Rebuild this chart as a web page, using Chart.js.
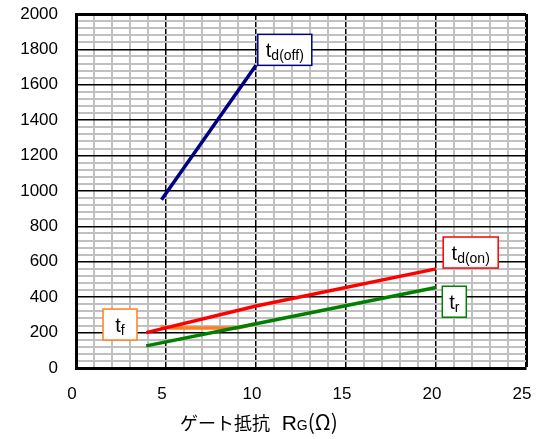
<!DOCTYPE html>
<html>
<head>
<meta charset="utf-8">
<script src="https://cdn.jsdelivr.net/npm/chart.js@4/dist/chart.umd.min.js"></script>
<style>
  html, body { margin: 0; padding: 0; background: #fff; }
  #wrap { width: 543px; height: 439px; }
</style>
</head>
<body>
<div id="wrap"><canvas id="swChart"></canvas></div>
<script>
// gate resistance (ohm) vs switching time (ns)
const tdOffX = [4.75, 10];
const tdOffY = [950, 1710];
const tdOnX = [3.9, 10, 20];
const tdOnY = [200, 350, 560];
const trX = [3.9, 10, 20];
const trY = [125, 250, 455];
const tfX = [4.7, 5.3, 9, 10];
const tfY = [235, 226, 226, 250];

const xTicks = [0, 5, 10, 15, 20, 25];
const yTicks = [0, 200, 400, 600, 800, 1000, 1200, 1400, 1600, 1800, 2000];

const FONT = 'Liberation Sans, Arial, sans-serif';

function pts(xs, ys) {
    return xs.map((x, i) => ({ x: x, y: ys[i] }));
}

function series(xs, ys, color) {
    return {
        data: pts(xs, ys),
        borderColor: color,
        backgroundColor: color,
        borderWidth: 3.5,
        pointRadius: 0,
        showLine: true,
        tension: 0
    };
}

// boxed curve labels, anchored at data coords (left, top of box)
const curveLabels = [
    { x: 10.1, y: 1885, main: 't', sub: 'd(off)', color: '#000080', w: 54 },
    { x: 20.4, y: 740, main: 't', sub: 'd(on)', color: '#ff0000', w: 55 },
    { x: 20.35, y: 462, main: 't', sub: 'r', color: '#008000', w: 24 },
    { x: 1.5, y: 333, main: 't', sub: 'f', color: '#ff7f20', w: 34 }
];

const labelPlugin = {
    id: 'curveLabels',
    afterDatasetsDraw(chart) {
        const ctx = chart.ctx;
        const xs = chart.scales.x, ys = chart.scales.y;
        ctx.save();
        curveLabels.forEach(l => {
            const left = xs.getPixelForValue(l.x);
            const top = ys.getPixelForValue(l.y);
            const h = 31;
            ctx.fillStyle = '#fff';
            ctx.fillRect(left, top, l.w, h);
            ctx.strokeStyle = l.color;
            ctx.lineWidth = 1.5;
            ctx.strokeRect(left, top, l.w, h);
            ctx.font = '20px ' + FONT;
            const mw = ctx.measureText(l.main).width;
            ctx.font = '14px ' + FONT;
            const sw = ctx.measureText(l.sub).width;
            let tx = left + (l.w - mw - sw) / 2;
            ctx.fillStyle = '#000';
            ctx.textBaseline = 'alphabetic';
            ctx.textAlign = 'left';
            ctx.font = '20px ' + FONT;
            ctx.fillText(l.main, tx, top + 23);
            ctx.font = '14px ' + FONT;
            ctx.fillText(l.sub, tx + mw, top + 26);
        });
        ctx.restore();
    }
};

// x axis title with the small "G" in R_G
const titlePlugin = {
    id: 'xTitle',
    afterDraw(chart) {
        const ctx = chart.ctx;
        const parts = [
            { t: 'ゲート抵抗', f: '18px "Noto Sans CJK JP"' },
            { t: '  R', f: '21px ' + FONT },
            { t: 'G', f: '14px ' + FONT },
            { t: '(Ω)', f: '21px "Noto Sans CJK JP"' }
        ];
        ctx.save();
        ctx.fillStyle = '#000';
        ctx.textBaseline = 'alphabetic';
        ctx.textAlign = 'left';
        let x = 180;
        parts.forEach(p => {
            ctx.font = p.f;
            ctx.fillText(p.t, x, 430);
            x += ctx.measureText(p.t).width;
        });
        ctx.restore();
    }
};

new Chart(document.getElementById('swChart'), {
    type: 'scatter',
    data: {
        datasets: [
            series(tdOffX, tdOffY, '#000080'),
            series(tdOnX, tdOnY, '#ff0000'),
            series(trX, trY, '#008000'),
            series(tfX, tfY, '#ff7f20')
        ]
    },
    options: {
        responsive: true,
        maintainAspectRatio: false,
        animation: false,
        layout: { padding: { top: 14, right: 17, left: 0, bottom: 0 } },
        plugins: {
            legend: { display: false },
            tooltip: { enabled: false }
        },
        scales: {
            x: {
                type: 'linear',
                min: 0,
                max: 25,
                afterFit(scale) {
                    scale.height = 71;
                    scale.paddingLeft = 0;
                    scale.paddingRight = 0;
                },
                ticks: {
                    stepSize: 1,
                    autoSkip: false,
                    maxRotation: 0,
                    padding: 16,
                    labelOffset: -4,
                    color: '#000',
                    font: { family: FONT, size: 17 },
                    callback: v => xTicks.includes(v) ? String(v) : ''
                },
                grid: {
                    drawTicks: false,
                    color: c => xTicks.includes(c.tick.value) ? '#000' : '#c0c0c0',
                    lineWidth: c => c.tick.value === 25 ? 3 : (xTicks.includes(c.tick.value) ? 1.5 : 2)
                },
                border: { color: '#000', width: 3 }
            },
            y: {
                min: 0,
                max: 2000,
                afterFit(scale) {
                    scale.width = 76;
                    scale.paddingTop = 0;
                    scale.paddingBottom = 0;
                },
                ticks: {
                    stepSize: 40,
                    autoSkip: false,
                    padding: 18,
                    color: '#000',
                    font: { family: FONT, size: 17 },
                    callback: v => yTicks.includes(v) ? String(v) : ''
                },
                grid: {
                    drawTicks: false,
                    color: c => yTicks.includes(c.tick.value) ? '#000' : '#c0c0c0',
                    lineWidth: c => c.tick.value === 2000 ? 3 : (yTicks.includes(c.tick.value) ? 1.5 : 2)
                },
                border: { color: '#000', width: 3 }
            }
        }
    },
    plugins: [labelPlugin, titlePlugin]
});
</script>
</body>
</html>
